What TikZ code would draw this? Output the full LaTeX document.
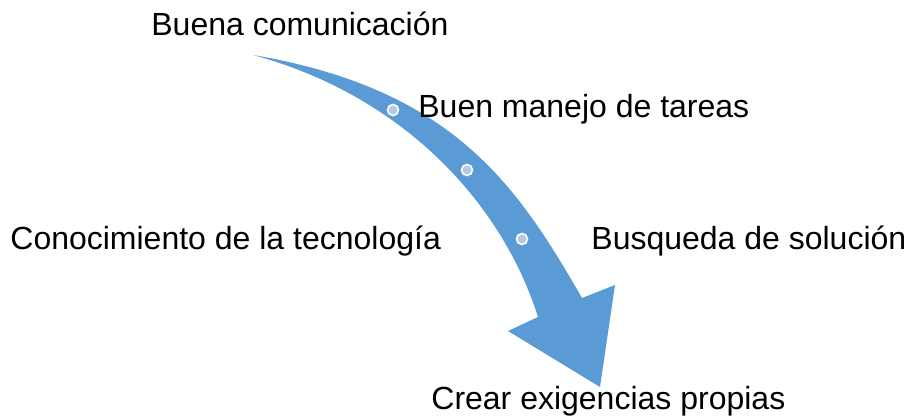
\documentclass[tikz,border=0pt]{standalone}
\usepackage{fontspec}
\setmainfont{Liberation Sans}
\definecolor{arrowblue}{HTML}{5B9BD5}
\definecolor{dotblue}{HTML}{B7C9E8}
\begin{document}
\begin{tikzpicture}[x=0.5pt,y=-0.5pt,
  lbl/.style={anchor=base west,inner sep=0pt,font=\fontsize{16}{19}\selectfont,text=black},
  dotmark/.style={circle,fill=dotblue,draw=white,line width=0.8pt,minimum size=5.5pt,inner sep=0pt}]
\useasboundingbox[fill=white] (0,0) rectangle (905,416);
% curved arrow
\fill[arrowblue] (253,55) .. controls (453,89) and (517,185) .. (582,298)
  -- (615,285) -- (600,387) -- (508,331) -- (538,317)
  .. controls (502,203) and (403,95.5) .. (253,55) -- cycle;
\node[dotmark] (d1) at (393,110) {};
\node[dotmark] (d2) at (467,170) {};
\node[dotmark] (d3) at (522,239) {};
% labels
\node[lbl] (t1) at (151,36) {Buena comunicación};
\node[lbl] (t2) at (418,118) {Buen manejo de tareas};
\node[lbl] (t3) at (10,250) {Conocimiento de la tecnología};
\node[lbl] (t4) at (591,250) {Busqueda de solución};
\node[lbl] (t5) at (431,410) {Crear exigencias propias};
\end{tikzpicture}
\end{document}
